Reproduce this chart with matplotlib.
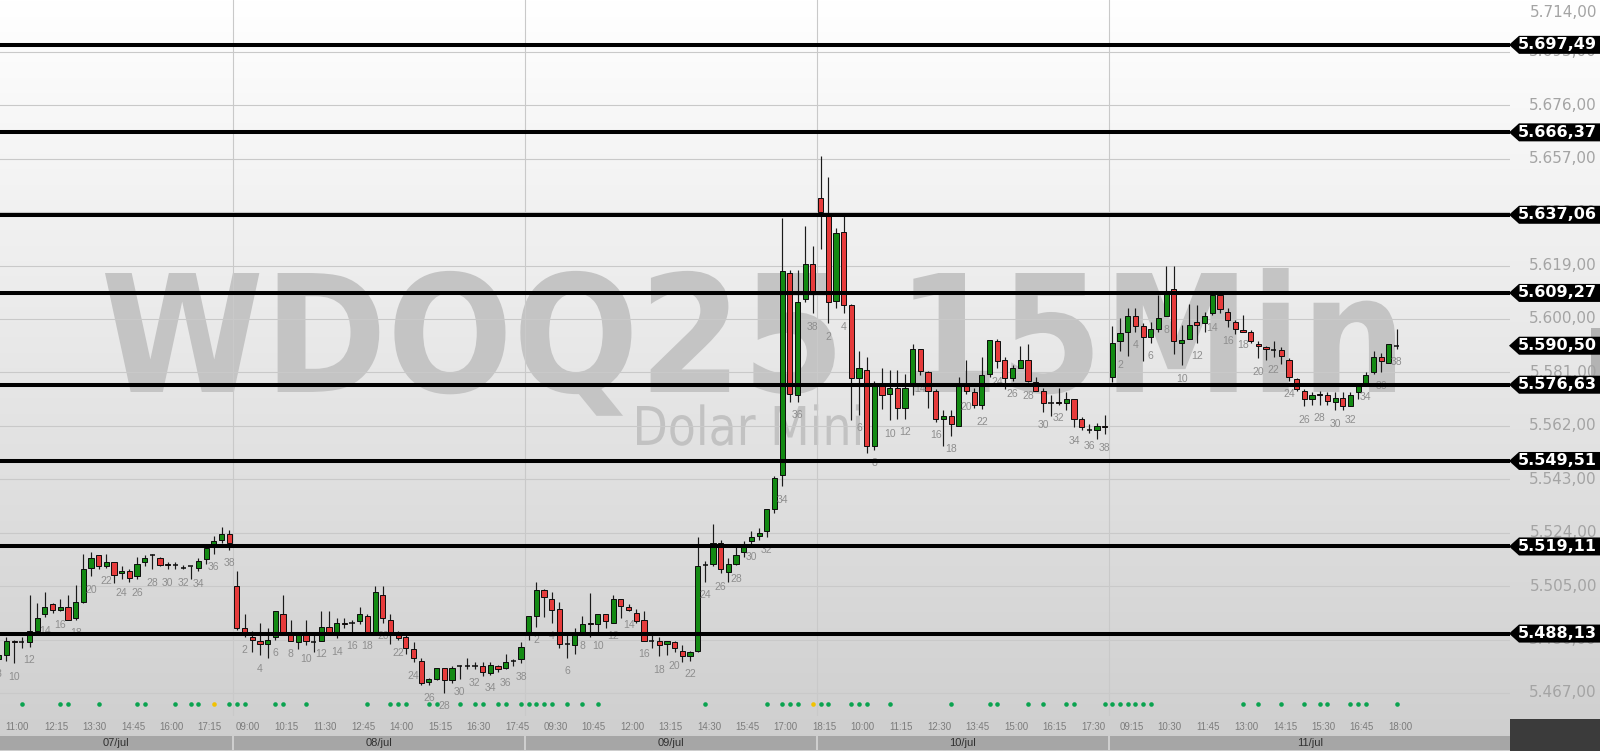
import matplotlib
matplotlib.use("Agg")
import matplotlib.pyplot as plt
import numpy as np
import matplotlib.transforms as mtransforms
from matplotlib.textpath import TextPath
from matplotlib.font_manager import FontProperties
from matplotlib.patches import PathPatch, Rectangle, Polygon

# ---------------- data ----------------
FIRST = 7  # global index of first (partially visible) candle; candle 0 = 07/jul 09:00
opens = [5479.0, 5480.5, 5485.5, 5485.0, 5485.0, 5489.0, 5495.0, 5498.5, 5496.5, 5497.5,
         5493.5, 5499.5, 5511.5, 5516.0, 5512.0, 5513.5, 5509.5, 5510.5, 5508.5, 5513.5,
         5516.0, 5515.0, 5513.0, 5512.5, 5511.5, 5512.0, 5511.5, 5514.5, 5519.5, 5521.5,
         5523.5,
         5505.0, 5490.0, 5487.0, 5485.5, 5484.5, 5487.0, 5495.0, 5488.0, 5485.0, 5487.5,
         5485.0, 5485.5, 5490.5, 5488.5, 5492.0, 5492.0, 5492.5, 5494.5, 5488.5, 5502.0,
         5493.0, 5487.5, 5487.0, 5482.5, 5478.5, 5471.0, 5472.0, 5476.0, 5471.5, 5476.5,
         5476.5, 5476.5, 5476.5, 5474.0, 5476.5, 5476.0, 5478.5, 5479.0,
         5488.5, 5494.5, 5503.5, 5500.5, 5497.0, 5484.5, 5484.0, 5488.5, 5492.0, 5491.5,
         5495.0, 5492.0, 5500.5, 5497.5, 5495.5, 5493.0, 5485.5, 5485.5, 5484.5, 5485.0,
         5482.0, 5480.0, 5482.0, 5512.5, 5513.0, 5520.5, 5510.0, 5513.0, 5517.0, 5521.0,
         5523.0, 5524.5, 5532.5, 5544.5, 5616.5, 5573.0, 5607.0, 5619.5,
         5643.0, 5636.5, 5606.5, 5631.0, 5605.0, 5579.0, 5582.0, 5555.0, 5576.5, 5573.5,
         5575.5, 5568.5, 5576.0, 5589.5, 5581.0, 5574.5, 5564.5, 5565.5, 5562.0, 5576.0,
         5574.0, 5569.5, 5580.5, 5592.0, 5585.5, 5579.0, 5582.5, 5585.5, 5577.5, 5574.5,
         5570.0, 5570.5, 5570.0, 5571.5, 5564.5, 5560.5, 5560.5, 5562.0,
         5579.5, 5592.0, 5595.5, 5601.0, 5597.5, 5593.5, 5596.5, 5601.0, 5610.5, 5591.5,
         5593.0, 5599.0, 5598.5, 5602.0, 5608.5, 5602.5, 5599.0, 5596.0, 5595.5, 5591.0,
         5590.0, 5589.0, 5589.0, 5585.5, 5578.5, 5574.5, 5571.5, 5573.5, 5573.0, 5570.5,
         5572.0, 5569.0, 5574.0, 5577.0, 5581.0, 5586.5, 5584.5, 5590.5]
highs = [5481.0, 5487.0, 5486.0, 5487.0, 5502.0, 5499.0, 5503.0, 5499.0, 5500.5, 5502.0,
         5505.5, 5516.5, 5517.0, 5516.0, 5516.5, 5513.5, 5512.0, 5511.0, 5515.5, 5516.0,
         5516.5, 5515.5, 5513.5, 5513.5, 5512.5, 5512.0, 5515.0, 5519.5, 5523.0, 5526.0,
         5525.0,
         5510.5, 5495.0, 5489.0, 5492.0, 5490.0, 5496.0, 5502.0, 5493.0, 5487.5, 5493.0,
         5487.5, 5496.0, 5496.0, 5493.5, 5493.5, 5493.0, 5497.5, 5495.0, 5505.0, 5505.0,
         5495.0, 5489.0, 5487.5, 5485.0, 5479.5, 5472.5, 5476.0, 5476.0, 5476.5, 5477.0,
         5479.5, 5478.0, 5478.0, 5478.0, 5477.0, 5481.0, 5479.0, 5485.0,
         5494.5, 5506.5, 5504.0, 5503.0, 5499.5, 5488.0, 5490.0, 5494.5, 5502.5, 5495.0,
         5495.0, 5502.0, 5500.5, 5498.5, 5497.0, 5496.0, 5488.0, 5487.0, 5485.5, 5485.5,
         5484.0, 5482.0, 5522.5, 5514.0, 5527.0, 5521.5, 5515.0, 5519.0, 5521.0, 5524.5,
         5525.5, 5532.5, 5544.0, 5636.0, 5617.5, 5617.5, 5633.0, 5626.0,
         5658.0, 5650.5, 5632.5, 5636.5, 5605.5, 5588.5, 5586.5, 5578.0, 5582.5, 5582.0,
         5582.0, 5580.5, 5591.0, 5589.5, 5581.5, 5575.0, 5567.5, 5567.5, 5579.5, 5585.5,
         5575.5, 5586.5, 5592.5, 5593.0, 5586.5, 5583.5, 5590.5, 5591.0, 5579.5, 5575.5,
         5573.0, 5575.5, 5574.0, 5571.5, 5565.0, 5562.5, 5563.0, 5566.0,
         5597.5, 5600.5, 5604.0, 5604.0, 5598.5, 5599.0, 5608.5, 5619.0, 5619.0, 5598.0,
         5605.5, 5605.0, 5602.5, 5609.0, 5609.0, 5604.0, 5599.5, 5601.5, 5596.0, 5592.0,
         5590.5, 5592.0, 5590.0, 5586.0, 5579.0, 5575.0, 5574.0, 5574.5, 5574.0, 5574.0,
         5574.0, 5574.0, 5577.0, 5581.0, 5588.5, 5588.0, 5591.0, 5596.5]
lows = [5478.5, 5478.5, 5477.5, 5483.0, 5483.5, 5488.5, 5494.0, 5495.5, 5496.0, 5493.0,
        5493.0, 5499.0, 5508.5, 5511.0, 5511.5, 5506.0, 5507.5, 5506.5, 5507.5, 5512.0,
        5511.0, 5512.0, 5511.0, 5511.0, 5511.0, 5507.5, 5510.5, 5513.0, 5516.5, 5520.5,
        5518.0,
        5489.5, 5487.0, 5481.5, 5480.5, 5479.5, 5486.0, 5488.0, 5485.5, 5482.5, 5484.0,
        5481.5, 5485.5, 5488.5, 5486.5, 5490.0, 5488.5, 5491.5, 5488.5, 5488.5, 5492.0,
        5484.5, 5486.0, 5481.0, 5478.0, 5470.0, 5470.0, 5471.5, 5467.0, 5470.5, 5472.0,
        5475.5, 5475.5, 5473.0, 5473.5, 5474.5, 5475.5, 5476.5, 5477.5,
        5486.0, 5490.5, 5494.0, 5492.0, 5483.0, 5479.5, 5481.0, 5488.5, 5487.0, 5488.5,
        5490.0, 5492.0, 5493.5, 5496.0, 5492.0, 5485.5, 5483.0, 5480.0, 5480.5, 5481.5,
        5478.0, 5478.5, 5481.5, 5506.5, 5512.0, 5509.5, 5506.5, 5512.5, 5515.5, 5520.0,
        5521.5, 5522.5, 5531.0, 5540.5, 5570.5, 5570.5, 5606.0, 5602.0,
        5625.0, 5598.5, 5604.0, 5602.0, 5564.0, 5566.0, 5552.5, 5553.5, 5568.0, 5564.0,
        5564.5, 5564.5, 5573.0, 5580.0, 5568.5, 5563.5, 5555.0, 5558.5, 5562.0, 5573.5,
        5568.5, 5568.0, 5579.5, 5582.5, 5575.0, 5578.0, 5582.5, 5577.5, 5574.5, 5567.0,
        5565.5, 5569.5, 5567.5, 5561.5, 5560.5, 5559.5, 5557.5, 5559.0,
        5577.5, 5588.5, 5587.0, 5595.5, 5585.0, 5591.5, 5595.5, 5601.0, 5587.5, 5583.5,
        5593.0, 5591.5, 5595.5, 5601.5, 5602.0, 5597.0, 5594.5, 5595.5, 5591.5, 5586.0,
        5585.5, 5586.5, 5584.0, 5578.0, 5574.5, 5569.0, 5569.5, 5569.5, 5569.5, 5567.5,
        5567.5, 5569.0, 5571.5, 5577.0, 5580.5, 5581.0, 5584.5, 5589.5]
closes = [5480.5, 5485.5, 5485.0, 5485.0, 5489.0, 5493.5, 5497.5, 5496.5, 5497.5, 5493.0,
          5499.5, 5511.0, 5515.0, 5512.0, 5513.5, 5509.0, 5510.5, 5508.0, 5513.0, 5515.0,
          5516.0, 5512.5, 5512.5, 5512.5, 5511.5, 5512.0, 5514.0, 5518.5, 5521.0, 5523.5,
          5520.5,
          5490.0, 5488.5, 5486.0, 5484.5, 5486.0, 5496.0, 5488.5, 5485.5, 5487.5, 5485.5,
          5485.0, 5490.5, 5488.5, 5492.0, 5491.5, 5492.0, 5495.0, 5488.5, 5503.0, 5493.5,
          5488.5, 5486.5, 5483.0, 5479.5, 5470.5, 5472.0, 5476.0, 5471.5, 5476.0, 5476.5,
          5476.5, 5476.5, 5474.5, 5477.0, 5475.5, 5478.0, 5478.5, 5483.5,
          5494.5, 5503.5, 5501.0, 5496.5, 5484.5, 5484.5, 5488.0, 5491.5, 5491.5, 5495.0,
          5492.5, 5500.5, 5498.0, 5496.5, 5492.5, 5485.5, 5485.5, 5484.0, 5485.5, 5483.0,
          5480.0, 5481.5, 5512.0, 5512.5, 5520.5, 5511.0, 5513.0, 5516.0, 5519.0, 5522.5,
          5524.0, 5532.5, 5543.5, 5617.0, 5573.5, 5606.0, 5619.5, 5610.0,
          5638.0, 5606.0, 5630.5, 5605.0, 5579.0, 5582.5, 5555.0, 5576.5, 5573.0, 5575.5,
          5568.5, 5575.5, 5589.5, 5581.5, 5574.5, 5564.5, 5565.5, 5562.5, 5576.0, 5574.5,
          5569.5, 5580.0, 5592.5, 5585.0, 5579.0, 5582.5, 5585.5, 5578.0, 5574.5, 5570.0,
          5570.0, 5570.0, 5571.5, 5564.5, 5561.5, 5560.5, 5562.0, 5561.5,
          5591.5, 5595.0, 5601.0, 5597.5, 5593.5, 5596.5, 5600.5, 5610.0, 5592.0, 5592.5,
          5598.0, 5598.0, 5601.0, 5608.5, 5603.5, 5599.5, 5596.5, 5595.5, 5592.0, 5590.5,
          5589.5, 5589.0, 5587.0, 5579.5, 5575.0, 5571.5, 5573.0, 5573.0, 5571.0, 5572.0,
          5569.0, 5573.0, 5576.5, 5580.0, 5586.5, 5585.0, 5591.0, 5590.5]

days = ["07/jul", "08/jul", "09/jul", "10/jul", "11/jul"]
CANDLES_PER_DAY = 38
time_labels = ["11:00", "12:15", "13:30", "14:45", "16:00", "17:15",
               "09:00", "10:15", "11:30", "12:45", "14:00", "15:15", "16:30", "17:45",
               "09:30", "10:45", "12:00", "13:15", "14:30", "15:45", "17:00", "18:15",
               "10:00", "11:15", "12:30", "13:45", "15:00", "16:15", "17:30",
               "09:15", "10:30", "11:45", "13:00", "14:15", "15:30", "16:45", "18:00"]
time_label_idx = list(range(8, 189, 5))

levels = [5697.49, 5666.37, 5637.06, 5609.27, 5576.63, 5549.51, 5519.11, 5488.13]
last_price = 5590.50
price_ticks = [5467 + 19 * k for k in range(14)]

green_dots = [10, 15, 16, 20, 25, 26, 30, 32, 33, 37, 38, 39, 43, 44, 47, 55, 58, 59, 60,
              63, 64, 67, 69, 70, 72, 73, 75, 76, 77, 78, 79, 81, 83, 85, 99, 107, 109,
              110, 111, 114, 115, 118, 119, 120, 123, 131, 136, 137, 141, 143, 146, 147,
              151, 152, 153, 154, 155, 156, 157, 169, 171, 174, 177, 179, 180, 183, 184,
              185, 189]
yellow_dots = [35, 113]

# ---------------- layout (pixels) ----------------
W, H = 1600, 751
PLOT_R, PLOT_B = 1510, 716
X0, X1 = 7.156, 203.77
Y0, Y1 = 5458.82, 5713.44
PPP = (Y1 - Y0) / PLOT_B  # price per pixel

def fmt(v):
    s = f"{v:,.2f}"
    return s.replace(",", "#").replace(".", ",").replace("#", ".")

fig = plt.figure(figsize=(16, 7.51), dpi=100)

# background gradient
bg = fig.add_axes([0, 0, 1, 1], zorder=-10)
bg.axis("off")
g = np.linspace(255, 206, 300) / 255.0
img = np.stack([g, g, g], axis=-1)[:, None, :].repeat(2, axis=1)
bg.imshow(img, aspect="auto", extent=[0, 1, 0, 1], interpolation="bilinear")
bg.set_xlim(0, 1); bg.set_ylim(0, 1)

# watermark
def add_text_path(text, weight, x0, x1, cap_top, baseline, color):
    fp = FontProperties(family="DejaVu Sans", weight=weight)
    tp = TextPath((0, 0), text, size=100, prop=fp)
    ext = tp.get_extents()
    cap = TextPath((0, 0), "D", size=100, prop=fp).get_extents().ymax
    sx = (x1 - x0) / (ext.xmax - ext.xmin)
    sy = (baseline - cap_top) / cap
    tr = (mtransforms.Affine2D().translate(-ext.xmin, 0).scale(sx, sy)
          .translate(x0, H - baseline).scale(1.0 / W, 1.0 / H) + fig.transFigure)
    p = PathPatch(tp, transform=tr, facecolor=color, edgecolor="none", zorder=-5)
    fig.add_artist(p)

add_text_path("WDOQ25 15Min", "bold", 105, 1395, 273, 392, "#c4c4c4")
add_text_path("Dolar Mini", "normal", 637, 860, 406, 445, "#c2c2c2")

# main axes
ax = fig.add_axes([0, 1 - PLOT_B / H, PLOT_R / W, PLOT_B / H], zorder=0)
ax.set_facecolor("none")
for s in ax.spines.values():
    s.set_visible(False)
ax.set_xticks([]); ax.set_yticks([])
ax.set_autoscale_on(False)

# grid
for v in price_ticks:
    ax.axhline(v, color="#c9c9c9", lw=0.8, zorder=1)
for d in range(1, len(days)):
    ax.axvline(d * CANDLES_PER_DAY - 0.5, color="#c9c9c9", lw=0.8, zorder=1)

# candles
idx = np.arange(FIRST, FIRST + len(opens))
o = np.array(opens); h = np.array(highs); l = np.array(lows); c = np.array(closes)
ax.vlines(idx, l, h, color="#1a1a1a", lw=0.85, zorder=3)
up = c > o
dn = c < o
dj = c == o
BW = 0.68
ax.bar(idx[up], c[up] - o[up], bottom=o[up], width=BW, color="#138a13",
       edgecolor="#0c0c0c", linewidth=0.7, zorder=4)
ax.bar(idx[dn], o[dn] - c[dn], bottom=c[dn], width=BW, color="#e63b3b",
       edgecolor="#0c0c0c", linewidth=0.7, zorder=4)
ax.hlines(o[dj], idx[dj] - BW / 2, idx[dj] + BW / 2, color="#0c0c0c", lw=1.1, zorder=4)

# candle numbers (even candle of the day)
for gi, lo in zip(idx, l):
    n = gi % CANDLES_PER_DAY + 1
    if n % 2 == 0:
        ax.text(gi, lo - 13.5 * PPP, str(n), ha="center", va="center", fontsize=7.5,
                family="Liberation Sans", color="#8e8e8e", zorder=5, clip_on=True)

# indicator dots
xa = ax.get_xaxis_transform()
ax.plot(green_dots, [(PLOT_B - 704) / PLOT_B] * len(green_dots), "o", ms=3.3,
        color="#0aa34f", mec="none", transform=xa, zorder=5, clip_on=False)
ax.plot(yellow_dots, [(PLOT_B - 704) / PLOT_B] * len(yellow_dots), "o", ms=3.3,
        color="#f2c200", mec="none", transform=xa, zorder=5, clip_on=False)

# level lines
for v in levels:
    ax.axhline(v, color="black", lw=2.9, zorder=6)

# right price axis labels
tfy = mtransforms.blended_transform_factory(fig.transFigure, ax.transData)
for v in price_ticks:
    yv = min(v, Y1 - 13 * PPP)
    ax.text(1597 / W, yv, fmt(v), transform=tfy, ha="right", va="center", fontsize=11,
            family="DejaVu Sans", color="#a4a4a4", zorder=7, clip_on=False)

# level boxes
half = 9 * PPP
for v in levels + [last_price]:
    verts = [(1509 / W, v), (1519 / W, v + half), (1.01, v + half),
             (1.01, v - half), (1519 / W, v - half)]
    ax.add_patch(Polygon(verts, closed=True, transform=tfy, facecolor="black",
                         edgecolor="none", zorder=8, clip_on=False))
    ax.text(1597 / W, v, fmt(v), transform=tfy, ha="right", va="center", fontsize=11.5,
            fontweight="bold", family="DejaVu Sans", color="white", zorder=9,
            clip_on=False)

ax.set_xlim(X0, X1)
ax.set_ylim(Y0, Y1)

# time labels
tdf = mtransforms.blended_transform_factory(ax.transData, fig.transFigure)
for gi, lab in zip(time_label_idx, time_labels):
    ax.text(gi - 0.1, 1 - 727 / H, lab, transform=tdf, ha="left", va="center",
            fontsize=7, family="Liberation Sans", color="#7c7c7c", clip_on=False)

# date bar
gap = 1.0 / 7.68
for d, name in enumerate(days):
    a = d * CANDLES_PER_DAY - 0.5 + gap
    b = (d + 1) * CANDLES_PER_DAY - 0.5 - gap
    a = max(a, X0)
    if d == len(days) - 1:
        b = X1
    ax.add_patch(Rectangle((a, 1 - 750 / H), b - a, 14 / H, transform=tdf,
                           facecolor="#a6a6a6", edgecolor="none", clip_on=False, zorder=2))
    ax.text((a + b) / 2, 1 - 743 / H, name, transform=tdf, ha="center", va="center",
            fontsize=8, family="Liberation Sans", color="#303030", clip_on=False, zorder=3)

ax.set_xlim(X0, X1)
ax.set_ylim(Y0, Y1)

# bottom-right dark box and scroll tab
fig.add_artist(Rectangle((PLOT_R / W, 0), 1 - PLOT_R / W, 32 / H,
                         transform=fig.transFigure, facecolor="#3b3b3b", edgecolor="none"))
fig.add_artist(Rectangle((1591 / W, 1 - 378 / H), 9 / W, 50 / H,
                         transform=fig.transFigure, facecolor="#b3b3b3", edgecolor="none",
                         zorder=-4))

fig.savefig("out.png", dpi=100)
